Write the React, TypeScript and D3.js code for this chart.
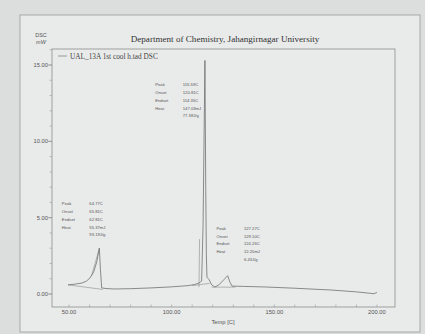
import React from "react"
import * as d3 from "d3"

// DSC curve, temperature [C] vs heat flow [mW]
const temps = [49.5, 53, 56.3, 58.5, 60.2, 62, 63.5, 64.77, 65.3, 65.9, 68, 72, 80, 90, 100, 108, 111, 113, 114.6, 115.3, 115.8, 116.2, 116.6, 116.9, 117.2, 118.2, 119.5, 121, 123, 125.5, 127.27, 128.3, 129.4, 135, 146, 160, 178, 190, 196.5, 198.5, 200]
const flows = [0.6, 0.65, 0.72, 0.85, 1.05, 1.45, 2.1, 3.0, 1.6, 0.4, 0.36, 0.33, 0.35, 0.4, 0.47, 0.55, 0.62, 0.7, 0.85, 4.5, 10.5, 15.3, 7.0, 2.5, 1.1, 0.95, 0.6, 0.46, 0.6, 0.95, 1.2, 0.8, 0.52, 0.5, 0.46, 0.38, 0.26, 0.14, 0.05, 0.02, 0.1]

// analysis construction lines (baselines / tangents)
const helperLines: [number, number][][] = [
    [[49.5, 0.6], [66.5, 0.3]],
    [[61, 1.2], [64.77, 3.0]],
    [[113.3, 0.45], [113.6, 3.6]],
    [[110, 0.55], [118.5, 0.7]],
    [[119.5, 0.45], [131, 0.45]],
]

const peakLabels = ["Peak", "Onset", "Endset", "Heat", ""]
const peakValues = [
    ["64.77C", "65.81C", "62.81C", "55.37mJ", "93.19J/g"],
    ["115.59C", "120.81C", "114.35C", "147.03mJ", "77.38J/g"],
    ["127.27C", "129.10C", "124.26C", "12.20mJ", "6.43J/g"],
]
// where each table sits, in data units (temp, mW)
const tableAnchor: [number, number][] = [[46.5, 5.8], [92, 13.6], [121.8, 4.2]]

const xTicks = [50, 100, 150, 200]
const yTicks = [0, 5, 10, 15]

export default function App() {
    const W = 425, H = 334
    const x = d3.scaleLinear().domain([41.7, 208.8]).range([52, 395])
    const y = d3.scaleLinear().domain([-0.85, 16.05]).range([307, 49])

    const pts = temps.map((t, i) => [t, flows[i]] as [number, number])
    const line = d3.line<[number, number]>().x(d => x(d[0])).y(d => y(d[1]))

    const xMinor = d3.range(50, 201, 10)
    const yMinor = d3.range(0, 16.01, 1)

    return (
        <svg width={W} height={H} style={{ position: "absolute", left: 0, top: 0 }}>
            <rect width={W} height={H} fill="#dcdedd" />
            <rect x={20} y={15} width={400} height={317} fill="#e9eaea" stroke="#9a9c9c" strokeWidth={0.8} />

            <text x={225} y={42} textAnchor="middle" fontFamily="Liberation Serif" fontSize={9.1} fill="#333">
                Department of Chemistry, Jahangirnagar University
            </text>
            <text x={41} y={37} textAnchor="middle" fontFamily="Liberation Sans" fontSize={5.5} fill="#555">DSC</text>
            <text x={41} y={44} textAnchor="middle" fontFamily="Liberation Sans" fontSize={5.5} fontStyle="italic" fill="#555">mW</text>

            <rect x={52} y={49} width={343} height={258} fill="none" stroke="#8c8e8e" strokeWidth={0.8} />

            {/* legend */}
            <line x1={58} x2={67} y1={56} y2={56} stroke="#777" strokeWidth={0.7} />
            <text x={70} y={58.5} fontFamily="Liberation Serif" fontSize={7.3} fill="#444">UAL_13A 1st cool h.tad  DSC</text>

            {/* y axis */}
            {yMinor.map(v => (
                <line key={"ym" + v} x1={49.5} x2={52} y1={y(v)} y2={y(v)} stroke="#999" strokeWidth={0.6} />
            ))}
            {yTicks.map(v => (
                <g key={"y" + v}>
                    <line x1={48} x2={52} y1={y(v)} y2={y(v)} stroke="#888" strokeWidth={0.7} />
                    <text x={48} y={y(v) + 2} textAnchor="end" fontFamily="Liberation Sans" fontSize={5.8} fill="#555">
                        {v.toFixed(2)}
                    </text>
                </g>
            ))}

            {/* x axis */}
            {xMinor.map(v => (
                <line key={"xm" + v} x1={x(v)} x2={x(v)} y1={307} y2={304.5} stroke="#999" strokeWidth={0.6} />
            ))}
            {xTicks.map(v => (
                <text key={"x" + v} x={x(v)} y={314} textAnchor="middle" fontFamily="Liberation Sans" fontSize={5.8} fill="#555">
                    {v.toFixed(2)}
                </text>
            ))}
            <text x={223} y={324} textAnchor="middle" fontFamily="Liberation Sans" fontSize={5.8} fill="#555">Temp  [C]</text>

            {/* construction lines */}
            {helperLines.map((l, i) => (
                <path key={"h" + i} d={line(l) as string} fill="none" stroke="#8a8a8a" strokeWidth={0.6} />
            ))}

            {/* DSC curve */}
            <path d={line(pts) as string} fill="none" stroke="#6f7171" strokeWidth={0.8} strokeLinejoin="round" />

            {/* peak tables */}
            {peakValues.map((vals, k) => {
                const [ax, ay] = tableAnchor[k]
                const px = x(ax), py = y(ay)
                return (
                    <g key={"t" + k} fontFamily="Liberation Sans" fontSize={4.2} fill="#555">
                        {peakLabels.map((lab, r) => (
                            <text key={"l" + r} x={px} y={py + r * 7.7}>{lab}</text>
                        ))}
                        {vals.map((v, r) => (
                            <text key={"v" + r} x={px + 27.5} y={py + r * 7.7}>{v}</text>
                        ))}
                    </g>
                )
            })}
        </svg>
    )
}
